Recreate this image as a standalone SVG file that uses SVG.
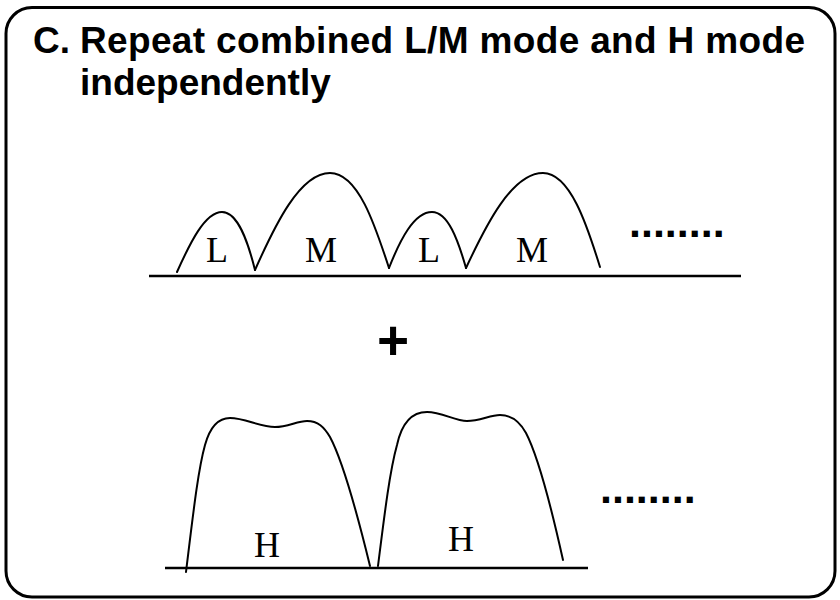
<svg xmlns="http://www.w3.org/2000/svg" width="840" height="600" viewBox="0 0 840 600">
  <style>
    .frame { fill: #ffffff; stroke: #000000; stroke-width: 3; }
    .title { font-family: "Liberation Sans", Arial, sans-serif; font-weight: bold; font-size: 37px; fill: #000000; }
    .axis { stroke: #000000; stroke-width: 2.5; fill: none; }
    .wave { stroke: #000000; stroke-width: 2; fill: none; stroke-linecap: round; stroke-linejoin: round; }
    .lbl { font-family: "Liberation Serif", "Times New Roman", serif; font-size: 36px; fill: #000000; text-anchor: middle; }
    .dots { font-family: "Liberation Sans", Arial, sans-serif; font-weight: bold; font-size: 43px; fill: #000000; }
    .plus { font-family: "Liberation Sans", Arial, sans-serif; font-weight: bold; font-size: 55px; fill: #000000; text-anchor: middle; }
  </style>

  <!-- outer rounded frame -->
  <rect class="frame" x="6" y="7.5" width="829" height="589.5" rx="26" ry="26"/>

  <!-- heading -->
  <g id="heading">
    <text class="title" x="33" y="53">C.</text>
    <text class="title" x="80" y="53" textLength="725" lengthAdjust="spacing">Repeat combined L/M mode and H mode</text>
    <text class="title" x="80" y="95">independently</text>
  </g>

  <!-- combined L/M pulse train -->
  <g id="lm-train">
    <line class="axis" x1="149" y1="276" x2="741" y2="276"/>
    <path class="wave" d="M177,272 C190,243 205,212 222,212 C238,212 248,242 255,270"/>
    <path class="wave" d="M255,270 C275,225 300,173 330,173 C358,173 375,225 389,268"/>
    <path class="wave" d="M389,268 C400,240 414,212 432,212 C448,212 458,240 466,268"/>
    <path class="wave" d="M466,268 C486,225 512,173 543,173 C570,173 587,225 600,267"/>
    <text class="lbl" x="217" y="262">L</text>
    <text class="lbl" x="321" y="262">M</text>
    <text class="lbl" x="429" y="262">L</text>
    <text class="lbl" x="532" y="262">M</text>
    <text class="dots" x="629" y="237">........</text>
  </g>

  <text class="plus" x="393" y="359">+</text>

  <!-- H pulse train -->
  <g id="h-train">
    <line class="axis" x1="165" y1="568" x2="588" y2="568"/>
    <path class="wave" d="M186,572 C193,515 198,470 205,445 C210,427 218,418 230,418 C245,418 260,427 275,427 C288,427 297,421 307,421 C318,421 324,427 330,437 C345,465 360,525 370,566"/>
    <path class="wave" d="M378,566 C385,510 390,470 397,445 C402,422 412,412 427,412 C442,412 455,421 467,421 C480,421 490,415 500,415 C512,415 520,422 526,433 C540,460 553,515 563,560"/>
    <text class="lbl" x="267" y="557" font-size="35">H</text>
    <text class="lbl" x="461" y="551" font-size="35">H</text>
    <text class="dots" x="600" y="503">........</text>
  </g>
</svg>
